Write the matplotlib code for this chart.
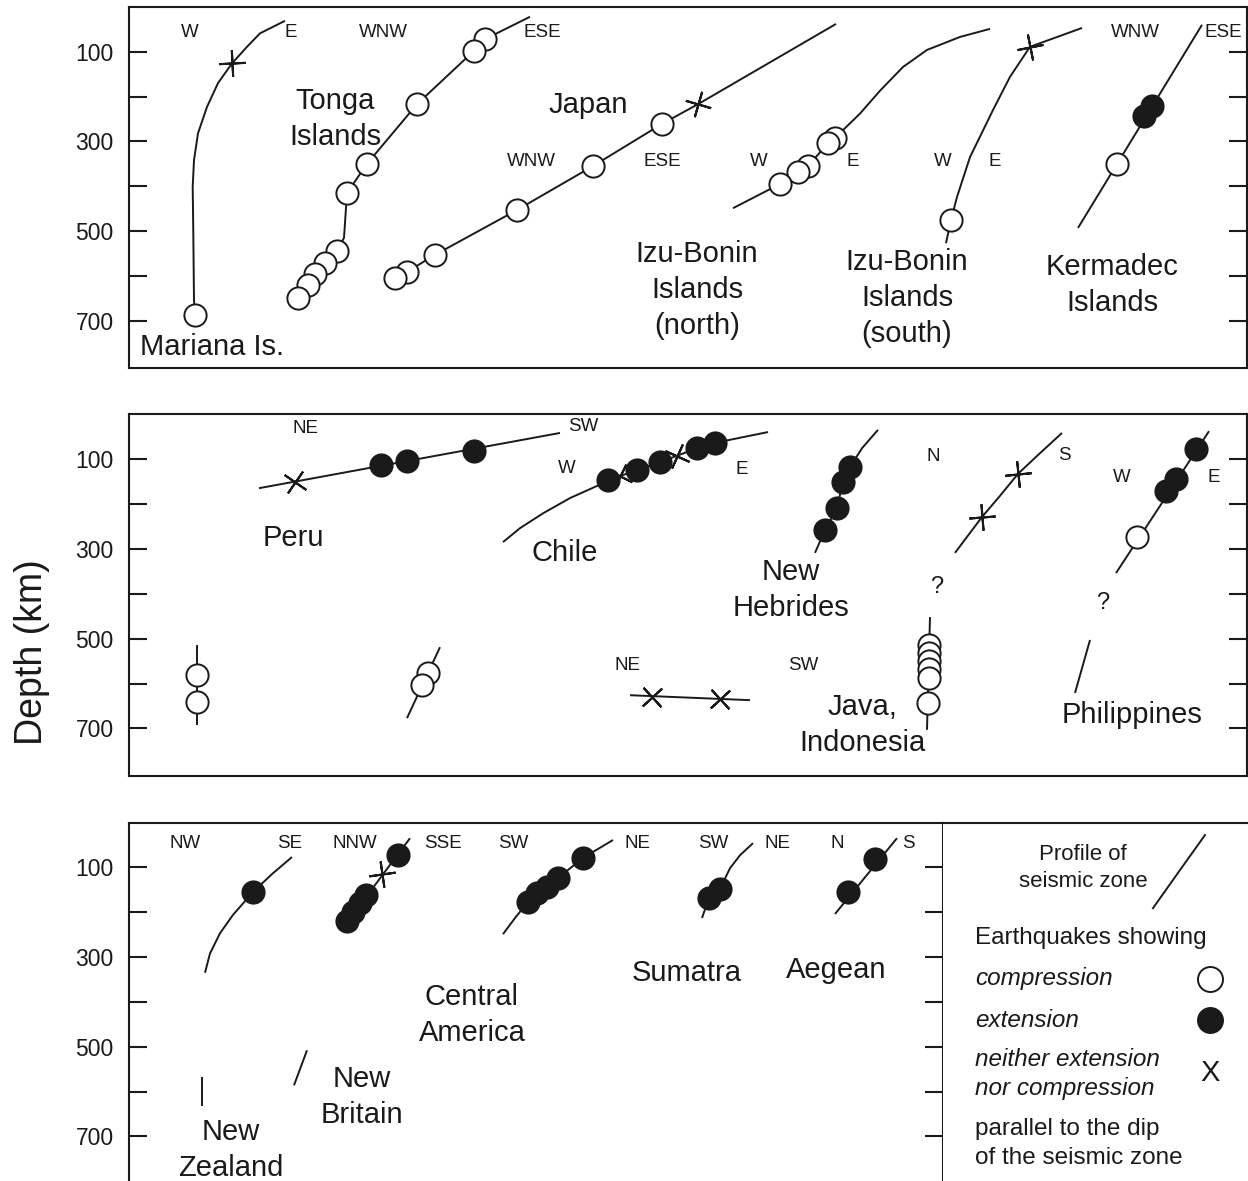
import matplotlib
matplotlib.use("Agg")
import matplotlib.pyplot as plt
import numpy as np

W, H, DPI = 1248, 1181, 100
INK = "#1a1a1a"

plt.rcParams["font.family"] = ["Liberation Sans", "DejaVu Sans"]

# ---------------------------------------------------------------------------
# Data: profiles. x is an arbitrary horizontal position,
# d is depth in km. Each profile has a trace line and earthquake events:
# compression (open), extension (filled), neither (X).
# ---------------------------------------------------------------------------

# Panel 1
mariana_line = ([285, 260, 247, 232, 218, 207, 198, 194, 192.7, 193.3, 194, 195],
                [31, 59, 89, 126, 170, 223, 282, 342, 401, 505, 654, 687])
mariana_comp = ([195], [687])
mariana_neither = ([232], [125])

tonga_line = ([530, 485, 474, 417, 367, 347, 344, 337, 325, 315, 308, 298],
              [22, 72, 98, 217, 350, 415, 515, 545, 571, 596, 620, 649])
tonga_comp = ([485, 474, 417, 367, 347, 337, 325, 315, 308, 298],
              [72, 98, 217, 350, 415, 545, 571, 596, 620, 649])

japan_line = ([836, 698, 662, 593, 517, 435, 407, 395],
              [38, 217, 261, 355, 453, 553, 591, 605])
japan_comp = ([662, 593, 517, 435, 407, 395],
              [261, 355, 453, 553, 591, 605])
japan_neither = ([698], [217])

izu_n_line = ([733, 780, 798, 808, 828, 835, 848, 860, 880, 903, 927, 960, 990],
              [449, 395, 369, 355, 304, 292, 264, 238, 187, 134, 96, 67, 49])
izu_n_comp = ([835, 828, 808, 798, 780], [292, 304, 355, 369, 395])

izu_s_line = ([946, 951, 957, 970, 993, 1010, 1030, 1082],
              [527, 475, 424, 335, 230, 156, 89, 47])
izu_s_comp = ([951], [475])
izu_s_neither = ([1030], [89])

kermadec_line = ([1078, 1202], [493, 40])
kermadec_comp = ([1117], [351])
kermadec_ext = ([1152, 1144], [220, 244])

# Panel 2
peru_line = ([259, 560], [165, 42])
peru_ext = ([381, 407, 474], [113, 104, 82])
peru_neither = ([295], [151])
peru_deep_line = ([197, 197], [514, 693])
peru_deep_comp = ([197, 197], [581, 641])

chile_deep_line = ([440, 407], [519, 677])
chile_deep_comp = ([428, 422], [576, 603])

chile_line = ([503, 520, 543, 570, 597, 608, 637, 660, 697, 715, 768],
              [285, 254, 221, 187, 160, 147, 125, 107, 76, 64, 40])
chile_ext = ([608, 637, 660, 697, 715], [147, 125, 107, 76, 64])
chile_neither = ([620, 677], [137, 94])

hebrides_line = ([815, 825, 837, 843, 850, 862, 878],
                 [309, 258, 209, 151, 118, 76, 35])
hebrides_ext = ([825, 837, 843, 850], [258, 209, 151, 118])

java_line = ([955, 982, 1000, 1018, 1040, 1062],
             [309, 229, 182, 133, 87, 42])
java_neither = ([982, 1018], [229, 133])
java_deep_line = ([930, 927], [452, 703])
java_deep_comp = ([929, 929, 929, 929, 929, 928],
                  [514, 532, 550, 568, 588, 643])

ne_sw_line = ([630, 750], [626, 637])
ne_sw_neither = ([652, 720], [630, 634])

phil_line = ([1116, 1209], [354, 38])
phil_comp = ([1137], [274])
phil_ext = ([1166, 1176, 1196], [171, 145, 78])
phil_deep_line = ([1090, 1075], [503, 621])

# Panel 3
nz_line = ([205, 210, 220, 233, 253, 272, 292],
           [335, 292, 247, 206, 155, 115, 77])
nz_ext = ([253], [155])
nz_deep_line = ([202, 202], [568, 632])

nb_line = ([345, 410], [229, 35])
nb_ext = ([347, 353, 360, 366, 398], [220, 200, 180, 162, 72])
nb_neither = ([382], [115])
nb_deep_line = ([307, 294], [508, 586])

cam_line = ([503, 515, 528, 537, 547, 558, 583, 613],
            [249, 213, 177, 157, 144, 124, 79, 39])
cam_ext = ([528, 537, 547, 558, 583], [177, 157, 144, 124, 79])

sumatra_line = ([702, 709, 720, 730, 740, 753], [213, 168, 148, 102, 73, 46])
sumatra_ext = ([709, 720], [168, 148])

aegean_line = ([835, 897], [204, 35])
aegean_ext = ([848, 875], [155, 81])

legend_line = ([1153, 1180, 1205], [191, 106, 28])

# Direction labels (text, x, depth)
dirs_1 = [("W", 190, 57), ("E", 291, 57), ("WNW", 383, 57), ("ESE", 542, 57),
          ("WNW", 531, 345), ("ESE", 662, 345), ("W", 759, 345), ("E", 853, 345),
          ("W", 943, 345), ("E", 995, 345), ("WNW", 1135, 57), ("ESE", 1223, 57)]
dirs_2 = [("NE", 305, 32), ("SW", 583, 28), ("W", 567, 121), ("E", 742, 123),
          ("N", 933, 95), ("S", 1064, 93), ("W", 1122, 141), ("E", 1214, 141),
          ("NE", 628, 560), ("SW", 803, 560)]
dirs_3 = [("NW", 185, 46), ("SE", 290, 46), ("NNW", 355, 46), ("SSE", 443, 46),
          ("SW", 513, 46), ("NE", 637, 46), ("SW", 713, 46), ("NE", 777, 46),
          ("N", 837, 46), ("S", 908, 46)]

# Region names (text, x, depth, horizontal alignment)
names_1 = [("Mariana Is.", 140, 758, "left"), ("Tonga\nIslands", 335, 250, "center"),
           ("Japan", 588, 219, "center"),
           ("Izu-Bonin\nIslands\n(north)", 697, 631, "center"),
           ("Izu-Bonin\nIslands\n(south)", 907, 649, "center"),
           ("Kermadec\nIslands", 1112, 620, "center")]
names_2 = [("Peru", 293, 277, "center"), ("Chile", 565, 310, "center"),
           ("New\nHebrides", 791, 392, "center"),
           ("Java,\nIndonesia", 862, 692, "center"),
           ("Philippines", 1132, 670, "center")]
names_3 = [("New\nZealand", 231, 730, "center"), ("New\nBritain", 362, 612, "center"),
           ("Central\nAmerica", 472, 430, "center"), ("Sumatra", 687, 336, "center"),
           ("Aegean", 836, 329, "center")]
questions = [(937, 385), (1103, 421)]

DEPTH_MAX = 805


def px_rect(x0, y0, x1, y1):
    # Axes placement in image pixels (top-left origin) to figure fractions.
    return [x0 / W, 1 - y1 / H, (x1 - x0) / W, (y1 - y0) / H]


def setup_panel(fig, rect, xlim, right_ticks=True):
    ax = fig.add_axes(px_rect(*rect))
    ax.set_xlim(*xlim)
    ax.set_ylim(DEPTH_MAX, 0)
    ax.set_xticks([])
    ax.set_yticks([100, 300, 500, 700])
    ax.set_yticks([200, 400, 600], minor=True)
    ax.tick_params(axis="y", which="both", direction="in", length=13, width=1.5,
                   left=True, right=right_ticks, labelsize=16.5, pad=11,
                   labelcolor=INK, color=INK)
    for s in ax.spines.values():
        s.set_linewidth(1.5)
        s.set_color(INK)
    return ax


def local_angle(ax, line, x0, d0):
    # Screen angle of the profile near an event, to orient its X symbol.
    pts = ax.transData.transform(np.column_stack(line))
    p = ax.transData.transform((x0, d0))
    mids = (pts[1:] + pts[:-1]) / 2
    i = np.argmin(np.hypot(*(mids - p).T))
    v = pts[i + 1] - pts[i]
    return np.degrees(np.arctan2(v[1], v[0]))


def draw_profile(ax, line, comp=None, ext=None, neither=None):
    ax.plot(*line, color=INK, lw=1.4, solid_capstyle="butt",
            solid_joinstyle="round", zorder=2)
    if neither is not None:
        for x, d in zip(*neither):
            ang = local_angle(ax, line, x, d)
            ax.plot([x], [d], marker=(4, 2, ang - 45), ms=19, mew=1.5,
                    color=INK, ls="none", zorder=3)
    for ev, face in ((comp, "white"), (ext, INK)):
        if ev is None:
            continue
        for x, d in zip(*ev):
            ax.plot([x], [d], "o", ms=16, mfc=face, mec=INK, mew=1.4, zorder=4)


def label_dirs(ax, dirs):
    for t, x, d in dirs:
        ax.text(x, d, t, fontsize=13.5, ha="center", va="center", color=INK)


def label_names(ax, names):
    for t, x, d, ha in names:
        ax.text(x, d, t, fontsize=21, ha=ha, va="center", color=INK,
                linespacing=1.37)


fig = plt.figure(figsize=(W / DPI, H / DPI), dpi=DPI)
fig.patch.set_facecolor("white")

# Panel 1
ax1 = setup_panel(fig, (129, 6.9, 1247, 367.8), (129, 1247))
draw_profile(ax1, mariana_line, comp=mariana_comp, neither=mariana_neither)
draw_profile(ax1, tonga_line, comp=tonga_comp)
draw_profile(ax1, japan_line, comp=japan_comp, neither=japan_neither)
draw_profile(ax1, izu_n_line, comp=izu_n_comp)
draw_profile(ax1, izu_s_line, comp=izu_s_comp, neither=izu_s_neither)
draw_profile(ax1, kermadec_line, comp=kermadec_comp, ext=kermadec_ext)
label_dirs(ax1, dirs_1)
label_names(ax1, names_1)

# Panel 2
ax2 = setup_panel(fig, (129, 414.1, 1247, 775.6), (129, 1247))
draw_profile(ax2, peru_line, ext=peru_ext, neither=peru_neither)
draw_profile(ax2, peru_deep_line, comp=peru_deep_comp)
draw_profile(ax2, chile_deep_line, comp=chile_deep_comp)
draw_profile(ax2, chile_line, ext=chile_ext, neither=chile_neither)
draw_profile(ax2, hebrides_line, ext=hebrides_ext)
draw_profile(ax2, java_line, neither=java_neither)
draw_profile(ax2, java_deep_line, comp=java_deep_comp)
draw_profile(ax2, ne_sw_line, neither=ne_sw_neither)
draw_profile(ax2, phil_line, comp=phil_comp, ext=phil_ext)
draw_profile(ax2, phil_deep_line)
label_dirs(ax2, dirs_2)
label_names(ax2, names_2)
for x, d in questions:
    ax2.text(x, d, "?", fontsize=17, ha="center", va="center", color=INK)

# Panel 3
ax3 = setup_panel(fig, (129, 822.5, 943, 1183.5), (129, 943))
draw_profile(ax3, nz_line, ext=nz_ext)
draw_profile(ax3, nz_deep_line)
draw_profile(ax3, nb_line, ext=nb_ext, neither=nb_neither)
draw_profile(ax3, nb_deep_line)
draw_profile(ax3, cam_line, ext=cam_ext)
draw_profile(ax3, sumatra_line, ext=sumatra_ext)
draw_profile(ax3, aegean_line, ext=aegean_ext)
label_dirs(ax3, dirs_3)
label_names(ax3, names_3)

# Legend box to the right of panel 3
axl = fig.add_axes(px_rect(943, 822.5, 1262, 1183.5))
axl.set_xlim(943, 1262)
axl.set_ylim(DEPTH_MAX, 0)
axl.set_xticks([])
axl.set_yticks([])
for side, s in axl.spines.items():
    s.set_linewidth(1.5)
    s.set_color(INK)
    s.set_visible(side in ("top", "bottom"))
axl.plot(*legend_line, color=INK, lw=1.4)
axl.text(1083, 101, "Profile of\nseismic zone", fontsize=16, ha="center",
         va="center", color=INK, linespacing=1.4)
axl.text(975, 258, "Earthquakes showing", fontsize=17.5, ha="left",
         va="center", color=INK)
axl.text(975, 348, "compression", fontsize=17.5, style="italic", ha="left",
         va="center", color=INK)
axl.plot([1210], [348], "o", ms=18, mfc="white", mec=INK, mew=1.4)
axl.text(975, 441, "extension", fontsize=17.5, style="italic", ha="left",
         va="center", color=INK)
axl.plot([1210], [441], "o", ms=18, mfc=INK, mec=INK, mew=1.4)
axl.text(975, 561, "neither extension\nnor compression", fontsize=17.5,
         style="italic", ha="left", va="center", color=INK, linespacing=1.37)
axl.text(1210, 559, "X", fontsize=21, ha="center", va="center", color=INK)
axl.text(975, 716, "parallel to the dip\nof the seismic zone", fontsize=17.5,
         ha="left", va="center", color=INK, linespacing=1.37)

fig.text(32 / W, 1 - 652 / H, "Depth (km)", rotation=90, fontsize=27,
         ha="center", va="center", color=INK)

fig.savefig("out.png", dpi=DPI)
